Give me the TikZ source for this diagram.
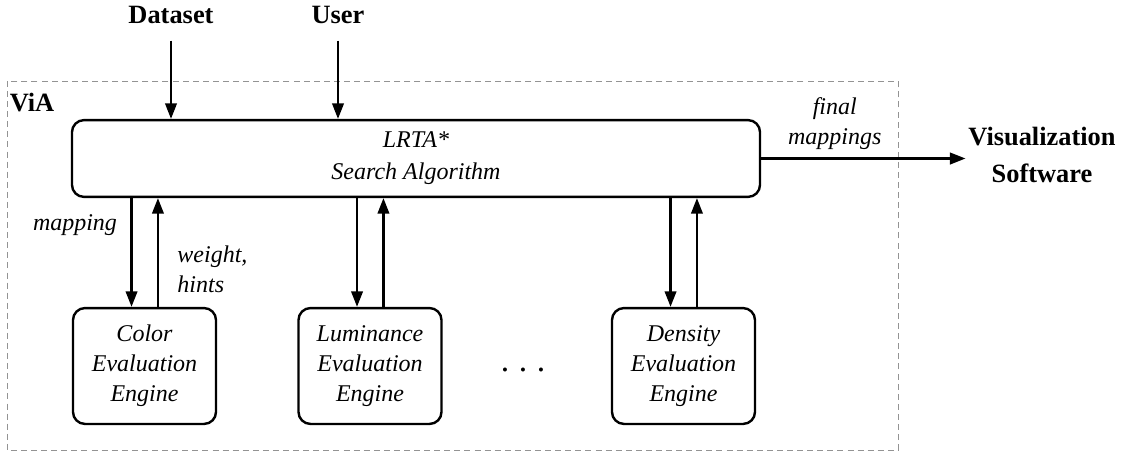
\documentclass[tikz,border=0pt]{standalone}
\usepackage{fontspec}
\setmainfont{Liberation Serif}
\usetikzlibrary{arrows.meta,positioning}

\tikzset{
  block/.style={draw, line width=1pt, rounded corners=5pt, align=center,
    font=\fontsize{10}{12.5}\selectfont\itshape},
  engine/.style={block, minimum width=59.6pt, minimum height=48.3pt, inner sep=0pt},
  flow/.style={-{Triangle[length=6.5pt,width=4.8pt]}, line width=1pt},
  ext/.style={font=\fontsize{11}{15.8}\selectfont\bfseries, align=center},
  lbl/.style={font=\fontsize{10}{12.5}\selectfont\itshape},
  frame/.style={draw=gray!85, line width=0.4pt, dash pattern=on 2.5pt off 1.7pt}
}

\begin{document}
\begin{tikzpicture}[x=0.4167pt, y=-0.4167pt]
	\useasboundingbox (0,0) rectangle (1129,452);
	
	% system frame
	\draw[frame] (7,81) rectangle (898,450);
	\node[ext] (via) at (32,103) {ViA};
	
	% inputs and output
	\node[ext] (dataset) at (171,15) {Dataset};
	\node[ext] (user) at (338,15) {User};
	\node[ext, inner sep=1pt] (vis) at (1042,155) {Visualization\\Software};
	
	% search
	\node[block, minimum width=286.7pt, minimum height=32pt,
	  font=\fontsize{10}{13.3}\selectfont\itshape] (lrta) at (416,158.5) {LRTA*\\Search Algorithm};
	
	% engines
	\node[engine] (color) at (144.5,366) {Color\\Evaluation\\Engine};
	\node[engine] (lum) at (370,366) {Luminance\\Evaluation\\Engine};
	\node[engine] (dens) at (683.5,366) {Density\\Evaluation\\Engine};
	\node (dots) at (523,370) {\fontsize{14}{14}\selectfont .\hspace{4pt}.\hspace{4pt}.};
	
	\draw[flow, shorten <=3.5pt] (dataset.south) -- (dataset.south |- lrta.north);
	\draw[flow, shorten <=3.5pt] (user.south) -- (user.south |- lrta.north);
	\draw[flow] (lrta.east) -- (lrta.east -| vis.west)
	  node[lbl, above, align=center, pos=0.36] {final\\mappings};
	
	\foreach \e in {color,lum,dens}{
		\draw[flow] ([xshift=-5.4pt]\e.north |- lrta.south) -- ([xshift=-5.4pt]\e.north);
		\draw[flow] ([xshift=5.6pt]\e.north) -- ([xshift=5.6pt]\e.north |- lrta.south);
	}
	
	\node[lbl] (maplbl) at (75,225) {mapping};
	\node[lbl, align=left, anchor=west] (wlbl) at (169,269) {weight,\\hints};
\end{tikzpicture}
\end{document}
